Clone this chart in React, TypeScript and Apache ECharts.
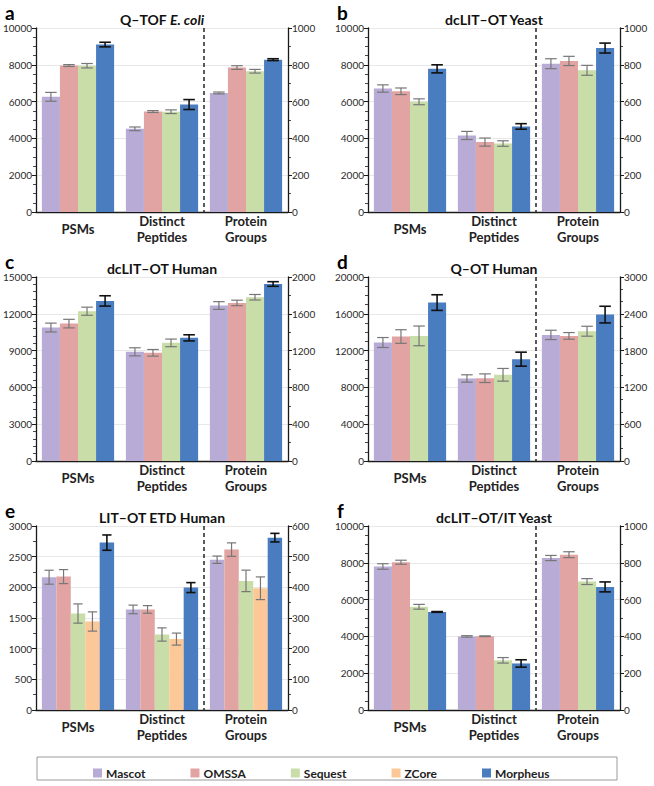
import React, { useEffect, useRef } from 'react';
import * as echarts from 'echarts';

const methods = ['Mascot', 'OMSSA', 'Sequest', 'ZCore', 'Morpheus'];
const categories = ['PSMs', 'Distinct\nPeptides', 'Protein\nGroups'];

// Means per method: [PSMs, Distinct Peptides, Protein Groups]; null = method not run
const qtofEcoliMeans = [[6260, 4520, 647], [7960, 5460, 785], [7950, 5450, 765], null, [9100, 5840, 828]];
const qtofEcoliErrors = [[240, 100, 5], [50, 50, 10], [120, 100, 10], null, [125, 270, 5]];

const dclitYeastMeans = [[6710, 4160, 806], [6560, 3800, 821], [5990, 3720, 770], null, [7780, 4650, 891]];
const dclitYeastErrors = [[200, 220, 27], [180, 220, 25], [160, 150, 27], null, [220, 150, 27]];

const dclitHumanMeans = [[10880, 8900, 1690], [11200, 8820, 1718], [12210, 9630, 1780], null, [13050, 10040, 1924]];
const dclitHumanErrors = [[360, 330, 42], [350, 270, 30], [330, 310, 30], null, [420, 250, 25]];

const qotHumanMeans = [[12880, 8970, 2056], [13530, 9000, 2040], [13600, 9370, 2116], null, [17220, 11070, 2387]];
const qotHumanErrors = [[540, 400, 76], [740, 470, 54], [1070, 690, 81], null, [850, 760, 136]];

const litEtdHumanMeans = [[2165, 1640, 490], [2175, 1640, 523], [1573, 1231, 421], [1443, 1156, 397], [2729, 1996, 562]];
const litEtdHumanErrors = [[114, 70, 12], [114, 62, 22], [157, 108, 35], [157, 98, 37], [125, 81, 14]];

const dclitItYeastMeans = [[7800, 4000, 826], [8030, 4010, 844], [5610, 2700, 698], null, [5330, 2530, 669]];
const dclitItYeastErrors = [[150, 40, 14], [110, 20, 16], [130, 150, 16], null, [20, 200, 27]];

const panels = [
  { letter: 'a', title: '{t|Q–TOF }{i|E. coli}', means: qtofEcoliMeans, errors: qtofEcoliErrors, leftMax: 10000, leftStep: 2000, leftMinor: 4, rightMax: 1000, rightStep: 200, rightMinor: 2, divider: true },
  { letter: 'b', title: '{t|dcLIT–OT Yeast}', means: dclitYeastMeans, errors: dclitYeastErrors, leftMax: 10000, leftStep: 2000, leftMinor: 4, rightMax: 1000, rightStep: 200, rightMinor: 2, divider: true },
  { letter: 'c', title: '{t|dcLIT–OT Human}', means: dclitHumanMeans, errors: dclitHumanErrors, leftMax: 15000, leftStep: 3000, leftMinor: 5, rightMax: 2000, rightStep: 400, rightMinor: 2, divider: false },
  { letter: 'd', title: '{t|Q–OT Human}', means: qotHumanMeans, errors: qotHumanErrors, leftMax: 20000, leftStep: 4000, leftMinor: 4, rightMax: 3000, rightStep: 600, rightMinor: 3, divider: true },
  { letter: 'e', title: '{t|LIT–OT ETD Human}', means: litEtdHumanMeans, errors: litEtdHumanErrors, leftMax: 3000, leftStep: 500, leftMinor: 2, rightMax: 600, rightStep: 100, rightMinor: 2, divider: true },
  { letter: 'f', title: '{t|dcLIT–OT/IT Yeast}', means: dclitItYeastMeans, errors: dclitItYeastErrors, leftMax: 10000, leftStep: 2000, leftMinor: 4, rightMax: 1000, rightStep: 200, rightMinor: 2, divider: true },
];

// Styling / layout (kept separate from data)
const COLORS = ['#b8abd5', '#e2a4a2', '#c8dda8', '#fcc898', '#4a7dbf'];
const GRID_POS = [
  { left: 36, top: 28 }, { left: 368, top: 28 },
  { left: 36, top: 277 }, { left: 368, top: 277 },
  { left: 36, top: 526 }, { left: 368, top: 526 },
];
const GW = 252;
const GH = 184;
const CAT_GAP = 0.14;
const FONT = 'Lato, "Open Sans", sans-serif';

function errorRender(params: any, api: any) {
  const cat = api.value(0);
  const val = api.value(1);
  const err = api.value(2);
  const k = api.value(3);
  const n = api.value(4);
  const dark = api.value(5) === 1;
  const catW = api.size([1, 0])[0];
  const groupW = catW * (1 - CAT_GAP);
  const bw = groupW / n;
  const cx = api.coord([cat, 0])[0] - groupW / 2 + (k + 0.5) * bw;
  const yT = api.coord([cat, val + err])[1];
  const yB = api.coord([cat, val - err])[1];
  const half = bw * 0.32;
  const style = { stroke: dark ? '#111111' : '#777777', lineWidth: dark ? 1.6 : 1.2 };
  return {
    type: 'group',
    children: [
      { type: 'line', shape: { x1: cx, y1: yT, x2: cx, y2: yB }, style },
      { type: 'line', shape: { x1: cx - half, y1: yT, x2: cx + half, y2: yT }, style },
      { type: 'line', shape: { x1: cx - half, y1: yB, x2: cx + half, y2: yB }, style },
    ],
  };
}

function dividerRender(params: any, api: any) {
  const x = (api.coord([1, 0])[0] + api.coord([2, 0])[0]) / 2;
  const cs = params.coordSys;
  return {
    type: 'line',
    shape: { x1: x, y1: cs.y, x2: x, y2: cs.y + cs.height },
    style: { stroke: '#333333', lineWidth: 1.6, lineDash: [4, 3] },
  };
}

function buildOption() {
  const grid: any[] = [];
  const xAxis: any[] = [];
  const yAxis: any[] = [];
  const series: any[] = [];
  const graphic: any[] = [];

  panels.forEach((p, g) => {
    const pos = GRID_POS[g];
    grid.push({ left: pos.left, top: pos.top, width: GW, height: GH });

    const xBase = {
      type: 'category',
      data: categories,
      gridIndex: g,
      axisTick: { show: false },
      axisLine: { lineStyle: { color: '#1a1a1a', width: 1.3 } },
      axisLabel: {
        interval: 0,
        margin: 17,
        verticalAlign: 'middle',
        lineHeight: 16,
        fontFamily: FONT,
        fontWeight: 'bold',
        fontSize: 13,
        color: '#222',
      },
    };
    xAxis.push({ ...xBase });
    xAxis.push({ ...xBase, show: false });

    const yBase = (max: number, step: number, minor: number, position: string, split: boolean) => ({
      type: 'value',
      gridIndex: g,
      position,
      min: 0,
      max,
      interval: step,
      axisLine: { show: true, lineStyle: { color: '#1a1a1a', width: 1.3 } },
      axisTick: { show: true, length: 4, lineStyle: { color: '#1a1a1a', width: 1 } },
      minorTick: { show: true, splitNumber: minor, length: 3, lineStyle: { color: '#1a1a1a', width: 0.8 } },
      splitLine: { show: split, lineStyle: { color: '#e8e8e8', width: 1 } },
      minorSplitLine: { show: false },
      axisLabel: {
        margin: 4,
        fontFamily: FONT,
        fontSize: 10,
        color: '#2a2a2a',
        formatter: (v: number) => String(v),
      },
    });
    yAxis.push(yBase(p.leftMax, p.leftStep, p.leftMinor, 'left', true));
    yAxis.push(yBase(p.rightMax, p.rightStep, p.rightMinor, 'right', false));

    const present = methods.map((_, i) => i).filter((i) => p.means[i]);
    const n = present.length;
    const leftErr: number[][] = [];
    const rightErr: number[][] = [];
    present.forEach((mi, k) => {
      const m = p.means[mi] as number[];
      const e = p.errors[mi] as number[];
      const barCommon = {
        type: 'bar',
        name: methods[mi],
        barGap: '0%',
        barCategoryGap: '14%',
        itemStyle: { color: COLORS[mi] },
        emphasis: { disabled: true },
      };
      series.push({ ...barCommon, xAxisIndex: 2 * g, yAxisIndex: 2 * g, data: [m[0], m[1], null] });
      series.push({ ...barCommon, xAxisIndex: 2 * g + 1, yAxisIndex: 2 * g + 1, data: [null, null, m[2]] });
      const dark = mi === 4 ? 1 : 0;
      leftErr.push([0, m[0], e[0], k, n, dark]);
      leftErr.push([1, m[1], e[1], k, n, dark]);
      rightErr.push([2, m[2], e[2], k, n, dark]);
    });
    series.push({ type: 'custom', xAxisIndex: 2 * g, yAxisIndex: 2 * g, data: leftErr, renderItem: errorRender, z: 5, silent: true });
    series.push({ type: 'custom', xAxisIndex: 2 * g + 1, yAxisIndex: 2 * g + 1, data: rightErr, renderItem: errorRender, z: 5, silent: true });
    if (p.divider) {
      series.push({ type: 'custom', xAxisIndex: 2 * g, yAxisIndex: 2 * g, data: [[0, 0]], renderItem: dividerRender, z: 6, silent: true });
    }

    graphic.push({
      type: 'text',
      x: pos.left + GW / 2,
      y: pos.top - 9,
      style: {
        text: p.title,
        align: 'center',
        verticalAlign: 'middle',
        rich: {
          t: { fontFamily: FONT, fontWeight: 'bold', fontSize: 14, fill: '#111' },
          i: { fontFamily: FONT, fontWeight: 'bold', fontStyle: 'italic', fontSize: 14, fill: '#111' },
        },
      },
    });
    graphic.push({
      type: 'text',
      x: pos.left - 31,
      y: pos.top - 16,
      style: {
        text: p.letter,
        align: 'left',
        verticalAlign: 'middle',
        fontFamily: FONT,
        fontWeight: 'bold',
        fontSize: 19,
        fill: '#000',
      },
    });
  });

  graphic.push({
    type: 'rect',
    shape: { x: 37, y: 757, width: 580, height: 23 },
    style: { fill: 'none', stroke: '#9a9a9a', lineWidth: 1 },
  });

  return {
    animation: false,
    backgroundColor: '#ffffff',
    grid,
    xAxis,
    yAxis,
    series,
    graphic,
    legend: {
      data: methods,
      left: 88,
      top: 762,
      icon: 'rect',
      itemWidth: 9,
      itemHeight: 9,
      itemGap: 45,
      selectedMode: false,
      textStyle: { fontFamily: FONT, fontWeight: 'bold', fontSize: 12, color: '#222', padding: [0, 0, 0, -1] },
    },
  };
}

export default function App() {
  const ref = useRef<HTMLDivElement>(null);
  useEffect(() => {
    document.body.style.margin = '0';
    if (!ref.current) return;
    const chart = echarts.init(ref.current, null, { renderer: 'svg' });
    chart.setOption(buildOption() as any);
    return () => chart.dispose();
  }, []);
  return <div ref={ref} style={{ width: 654, height: 786 }} />;
}
